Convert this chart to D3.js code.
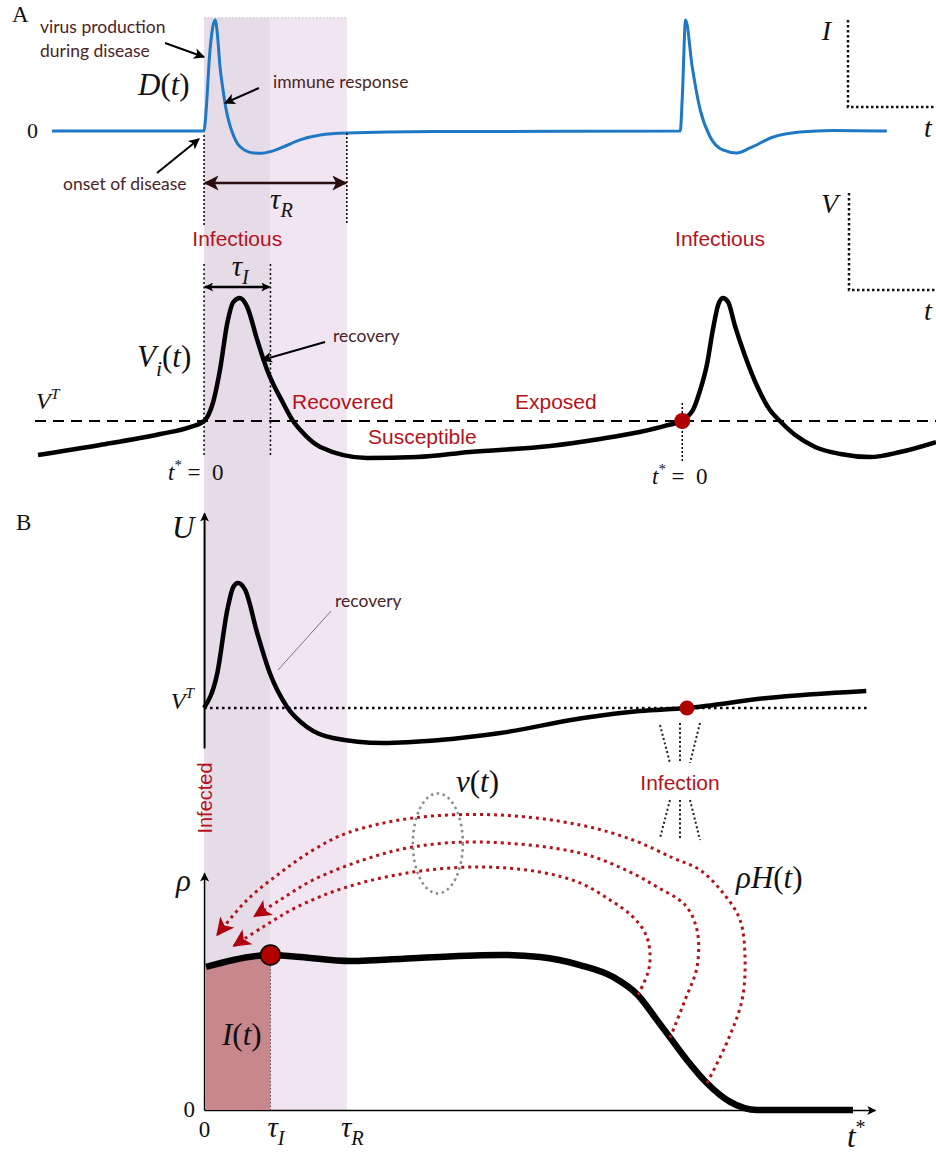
<!DOCTYPE html>
<html><head><meta charset="utf-8">
<script src="https://cdn.jsdelivr.net/npm/d3@7/dist/d3.min.js"></script>
<style>html,body{margin:0;padding:0;background:#fff}svg{display:block}text{white-space:pre}</style>
</head><body>
<svg id="chart" width="936" height="1153"></svg>
<script>
// ================= DATA =================
const tauI = 1.0;            // infectious period
const tauR = 2.15;           // recovery period
const tInfectA = 7.2;        // second infection (panel A)
const tInfectB = 7.27;       // infection point (panel B)
const xTickValues = [0, tauI, tauR];
const xTickLabels = [[["0", ""]], [["τ", "i"], ["I", "ib"]], [["τ", "i"], ["R", "ib"]]];

// D(t): virus production during disease  [t, D]
const virusProduction = [
  [-2.29, 0], [0, 0], [0.02, 0.1], [0.09, 0.73], [0.166, 1], [0.2, 0.88], [0.24, 0.58],
  [0.286, 0.37], [0.33, 0.2], [0.39, 0.05], [0.45, -0.05], [0.54, -0.14], [0.74, -0.198],
  [0.87, -0.2], [1.0, -0.185], [1.19, -0.144], [1.445, -0.08], [1.75, -0.036], [2.15, -0.018],
  [3.5, -0.005], [7.17, 0], [7.2, 0.3], [7.25, 1], [7.35, 0.577], [7.47, 0.19], [7.62, -0.054],
  [7.81, -0.171], [8.02, -0.198], [8.22, -0.153], [8.57, -0.054], [8.97, -0.009], [9.47, 0.005],
  [10.28, 0]
];

// V_i(t): within-host viral load, panel A  [t, v]
const viralLoadA = [
  [-2.5, -0.276], [-1.566, -0.195], [-0.66, -0.106], [-0.21, -0.049], [0, 0], [0.045, 0.03],
  [0.14, 0.16], [0.24, 0.415], [0.35, 0.797], [0.44, 0.967], [0.54, 1], [0.65, 0.927],
  [0.8, 0.659], [0.95, 0.415], [1.19, 0.146], [1.34, 0], [1.45, -0.073], [1.75, -0.211],
  [2.45, -0.3], [3.21, -0.293], [4.0, -0.252], [5.21, -0.203], [5.96, -0.146],
  [6.56, -0.089], [6.94, -0.04], [7.17, 0], [7.36, 0.089], [7.47, 0.252], [7.57, 0.455],
  [7.66, 0.74], [7.74, 0.943], [7.81, 1], [7.89, 0.967], [7.99, 0.78], [8.14, 0.537],
  [8.34, 0.268], [8.52, 0.089], [8.67, 0], [8.9, -0.114], [9.2, -0.211], [9.58, -0.268],
  [10.03, -0.293], [10.48, -0.252], [11.02, -0.171]
];

// U(t): viral load, panel B  [t, u]
const viralLoadB = [
  [0, 0], [0.2, 0.28], [0.35, 0.784], [0.44, 0.968], [0.51, 1], [0.62, 0.944], [0.8, 0.6],
  [0.99, 0.28], [1.25, 0.008], [1.55, -0.152], [1.94, -0.24], [2.69, -0.28], [3.55, -0.256],
  [4.46, -0.2], [5.71, -0.08], [6.56, -0.024], [7.27, 0], [8.48, 0.08], [9.97, 0.136]
];

// rho(t*): prevalence-like curve  [t*, rho]
const prevalence = [
  [0.03, 0.923], [0.44, 0.968], [1.0, 1.0], [1.45, 0.987], [2.2, 0.961], [3.21, 0.981],
  [4.46, 1.0], [5.06, 0.987], [5.66, 0.935], [6.16, 0.858], [6.53, 0.742], [6.82, 0.58],
  [7.02, 0.465], [7.27, 0.323], [7.57, 0.174], [7.92, 0.052], [8.33, 0.0], [9.77, 0.0]
];

// rho*H(t) return paths  [t*, rho]
const returnInner = [
  [6.534, 0.742], [6.685, 0.89], [6.715, 1.0], [6.655, 1.129], [6.459, 1.245], [6.113, 1.355],
  [5.661, 1.465], [5.059, 1.535], [4.155, 1.568], [3.147, 1.535], [2.153, 1.439], [1.4, 1.31],
  [0.888, 1.181], [0.45, 1.06]
];
const returnMiddle = [
  [7.016, 0.465], [7.242, 0.71], [7.422, 0.923], [7.422, 1.161], [7.242, 1.323], [6.82, 1.439],
  [6.414, 1.535], [5.661, 1.658], [4.155, 1.729], [3.147, 1.697], [2.394, 1.613], [1.641, 1.484],
  [1.144, 1.355], [0.76, 1.25]
];
const returnOuter = [
  [7.573, 0.174], [7.889, 0.452], [8.1, 0.71], [8.145, 0.968], [8.07, 1.226], [7.814, 1.4],
  [7.468, 1.548], [7.061, 1.626], [6.459, 1.742], [5.661, 1.839], [4.456, 1.903], [3.147, 1.884],
  [2.153, 1.787], [1.641, 1.677], [1.144, 1.529], [0.647, 1.355], [0.2, 1.13]
];

// ================= SCALES =================
const x  = d3.scaleLinear().domain([-2.5, 11.02]).range([38, 936]);
const yD = d3.scaleLinear().domain([0, 1]).range([131, 20]);
const yV = d3.scaleLinear().domain([0, 1]).range([421, 298]);
const yU = d3.scaleLinear().domain([0, 1]).range([708, 583]);
const yR = d3.scaleLinear().domain([0, 1]).range([1110, 955]);

const RED = "#b5121b", NOTE = "#4a2428", MATH = '"Liberation Serif", "Times New Roman", serif';
const SANS = '"Liberation Sans", Arial, sans-serif', NOTEF = 'Lato, "Open Sans", sans-serif';

const svg = d3.select("#chart");
const defs = svg.append("defs");
function marker(id, color, len, wid) {
  defs.append("marker").attr("id", id).attr("viewBox", "0 0 10 10")
    .attr("refX", 9).attr("refY", 5).attr("markerUnits", "userSpaceOnUse")
    .attr("markerWidth", len).attr("markerHeight", wid).attr("orient", "auto-start-reverse")
    .append("path").attr("d", "M0,0 L10,5 L0,10 L2.5,5 Z").attr("fill", color);
}
marker("arrK", "#000", 14, 11);
marker("arrBig", "#2a0f12", 20, 15);
marker("arrSm", "#000", 12, 9);
marker("arrRed", "#b00010", 22, 18);
marker("axArr", "#000", 12, 9);

function setMath(sel, spec, size) {
  sel.text(null);
  let shift = 0;
  spec.forEach(([s, f]) => {
    const ts = sel.append("tspan").text(s);
    if (f.includes("i")) ts.attr("font-style", "italic");
    let target = 0, fs = size;
    if (f.includes("b")) { target = size * 0.28; fs = size * 0.7; }
    if (f.includes("p")) { target = -size * 0.42; fs = size * 0.65; }
    ts.attr("font-size", fs).attr("dy", target - shift);
    shift = target;
  });
}
function math(px, py, size, spec, anchor) {
  const t = svg.append("text").attr("x", px).attr("y", py).attr("font-family", MATH)
    .attr("font-size", size).attr("fill", "#111").attr("text-anchor", anchor || "start");
  setMath(t, spec, size);
  return t;
}
function label(px, py, txt, opts) {
  opts = opts || {};
  return svg.append("text").attr("x", px).attr("y", py).text(txt)
    .attr("font-family", opts.font || SANS).attr("font-size", opts.size || 21)
    .attr("fill", opts.color || RED).attr("text-anchor", opts.anchor || "start");
}
function seg(x1, y1, x2, y2, st) {
  const l = svg.append("line").attr("x1", x1).attr("y1", y1).attr("x2", x2).attr("y2", y2)
    .attr("stroke", st.color || "#000").attr("stroke-width", st.w || 1.5);
  if (st.dash) l.attr("stroke-dasharray", st.dash);
  if (st.end) l.attr("marker-end", `url(#${st.end})`);
  if (st.start) l.attr("marker-start", `url(#${st.start})`);
  return l;
}

// ================= SHADED BAND =================
const bandTop = yD(1.02), bandBot = yR(0);
svg.append("rect").attr("x", x(0)).attr("y", bandTop).attr("width", x(tauI) - x(0))
  .attr("height", bandBot - bandTop).attr("fill", "#e5dce8");
svg.append("rect").attr("x", x(tauI)).attr("y", bandTop).attr("width", x(tauR) - x(tauI))
  .attr("height", bandBot - bandTop).attr("fill", "#f1e5f1");
seg(x(0), bandTop, x(tauR), bandTop, { color: "#c9bcc9", w: 1, dash: "1.5,2" });

// ================= PANEL A: D(t) =================
label(12, 22, "A", { font: MATH, size: 23, color: "#111" });
const lineD = d3.line().x(d => x(d[0])).y(d => yD(d[1])).curve(d3.curveMonotoneX);
svg.append("path").datum(virusProduction).attr("d", lineD).attr("fill", "none")
  .attr("stroke", "#1f78c4").attr("stroke-width", 3);
math(38, 138, 22, [["0", ""]], "end");
math(138, 95, 31, [["D", "i"], ["(", ""], ["t", "i"], [")", ""]]);
label(40, 33, "virus production", { font: NOTEF, size: 17.5, color: NOTE });
label(40, 57, "during disease", { font: NOTEF, size: 17.5, color: NOTE });
seg(165, 43, 204, 57, { w: 2, end: "arrK" });
label(273, 88, "immune response", { font: NOTEF, size: 17.5, color: NOTE });
seg(259, 88, 225, 103, { w: 2, end: "arrK" });
label(63, 190, "onset of disease", { font: NOTEF, size: 17.5, color: NOTE });
seg(157, 173, 199, 139, { w: 2, end: "arrK" });
seg(x(0), 135, x(0), 226, { w: 1.5, dash: "2,2" });
seg(x(tauR), 133, x(tauR), 223, { w: 1.5, dash: "2,2" });
seg(x(0) + 1, 183, x(tauR) - 1, 183, { w: 2.5, color: "#2a0f12", start: "arrBig", end: "arrBig" });
math((x(0) + x(tauR)) / 2 + 6, 209, 29, [["τ", "i"], ["R", "ib"]], "middle");

// inset legends
math(831, 40, 28, [["I", "i"]], "end");
svg.append("path").attr("d", `M848,20 V107 H936`).attr("fill", "none").attr("stroke", "#111")
  .attr("stroke-width", 2.5).attr("stroke-dasharray", "2.5,2.5");
math(924, 137, 28, [["t", "i"]]);
math(838, 213, 28, [["V", "i"]], "end");
svg.append("path").attr("d", `M849,193 V290 H936`).attr("fill", "none").attr("stroke", "#111")
  .attr("stroke-width", 2.5).attr("stroke-dasharray", "2.5,2.5");
math(924, 320, 28, [["t", "i"]]);

// ================= PANEL A: V_i(t) =================
label(x(tauI / 2), 246, "Infectious", { anchor: "middle" });
label(720, 246, "Infectious", { anchor: "middle" });
seg(x(0), 264, x(0), 457, { w: 1.5, dash: "2,2.5" });
seg(x(tauI), 264, x(tauI), 457, { w: 1.5, dash: "2,2.5" });
seg(x(0) + 1, 287, x(tauI) - 1, 287, { w: 2.5, start: "arrSm", end: "arrSm" });
math(x(tauI / 2) + 3, 276, 29, [["τ", "i"], ["I", "ib"]], "middle");
seg(35, yV(0), 936, yV(0), { w: 2, dash: "11,7" });
const lineV = d3.line().x(d => x(d[0])).y(d => yV(d[1])).curve(d3.curveMonotoneX);
svg.append("path").datum(viralLoadA).attr("d", lineV).attr("fill", "none")
  .attr("stroke", "#000").attr("stroke-width", 4.5).attr("stroke-linejoin", "round");
math(36, 409, 24, [["V", "i"], ["T", "ip"]]);
math(137, 367, 31, [["V", "i"], ["i", "ib"], ["(", ""], ["t", "i"], [")", ""]]);
label(333, 342, "recovery", { font: NOTEF, size: 17.5, color: NOTE });
seg(325, 342, 262, 360, { w: 2, end: "arrK" });
label(292, 409, "Recovered");
label(515, 409, "Exposed");
label(368, 444, "Susceptible");
math(168, 480, 23, [["t", "i"], ["*", "p"], [" =  0", ""]]);
seg(x(tInfectA), 403, x(tInfectA), 462, { w: 1.5, dash: "2,2" });
svg.append("circle").attr("cx", x(tInfectA)).attr("cy", yV(0)).attr("r", 8).attr("fill", "#b00000");
math(652, 484, 23, [["t", "i"], ["*", "p"], [" =  0", ""]]);

// ================= PANEL B: U =================
label(16, 530, "B", { font: MATH, size: 23, color: "#111" });
const yUaxis = d3.scaleLinear().domain([-0.32, 1.56]).range([yU(-0.32), yU(1.56)]);
const gU = svg.append("g").attr("transform", `translate(${x(0)},0)`)
  .call(d3.axisLeft(yUaxis).tickValues([0]).tickSize(0).tickSizeOuter(0).tickPadding(10));
gU.select(".domain").attr("stroke-width", 2).attr("marker-end", "url(#axArr)");
gU.selectAll(".tick text").attr("font-family", MATH).attr("fill", "#111").attr("dy", "0.3em")
  .each(function () { setMath(d3.select(this), [["V", "i"], ["T", "ip"]], 24); });
math(172, 538, 31, [["U", "i"]]);
seg(x(0), yU(0), 868, yU(0), { w: 2.5, dash: "2.5,3.5" });
const lineU = d3.line().x(d => x(d[0])).y(d => yU(d[1])).curve(d3.curveMonotoneX);
svg.append("path").datum(viralLoadB).attr("d", lineU).attr("fill", "none")
  .attr("stroke", "#000").attr("stroke-width", 4.5).attr("stroke-linejoin", "round");
svg.append("circle").attr("cx", x(tInfectB)).attr("cy", yU(0)).attr("r", 7.5).attr("fill", "#b00000");
label(335, 607, "recovery", { font: NOTEF, size: 17.5, color: NOTE });
seg(331, 611, 278, 670, { w: 1, color: "#777" });

// Infection label and rays
const ix = 680, iy = 782;
label(ix, iy + 8, "Infection", { anchor: "middle" });
[[-20, -57, -10, -19], [0, -59, 0, -19], [20, -59, 10, -19],
 [-10, 18, -20, 56], [0, 18, 0, 58], [10, 18, 20, 58]].forEach(r =>
  seg(ix + r[0], iy + r[1], ix + r[2], iy + r[3], { w: 2, color: "#222", dash: "2,2.5" }));

svg.append("text").attr("transform", "translate(212,798) rotate(-90)").attr("text-anchor", "middle")
  .attr("font-family", SANS).attr("font-size", 20).attr("fill", RED).text("Infected");

// ================= PANEL B: rho =================
const xAxisScale = d3.scaleLinear().domain([0, 10.1]).range([x(0), x(10.1)]);
const gx = svg.append("g").attr("transform", `translate(0,${yR(0)})`)
  .call(d3.axisBottom(xAxisScale).tickValues(xTickValues).tickSize(0).tickSizeOuter(0));
gx.select(".domain").attr("stroke-width", 1.5).attr("marker-end", "url(#axArr)");
gx.selectAll(".tick text").attr("font-family", MATH).attr("fill", "#111").attr("y", 27).attr("dy", null)
  .each(function (d, i) { setMath(d3.select(this), xTickLabels[i], i === 0 ? 23 : 29); });
gx.selectAll(".tick").filter((d, i) => i > 0).select("text").attr("x", 5);
const yRaxis = d3.scaleLinear().domain([0, 1.53]).range([yR(0), yR(1.53)]);
const gy = svg.append("g").attr("transform", `translate(${x(0)},0)`)
  .call(d3.axisLeft(yRaxis).tickValues([0]).tickFormat(() => "0").tickSize(0).tickSizeOuter(0).tickPadding(9));
gy.select(".domain").attr("stroke-width", 1.5).attr("marker-end", "url(#axArr)");
gy.selectAll(".tick text").attr("font-family", MATH).attr("fill", "#111").attr("font-size", 23).attr("dy", "0.3em");
math(176, 891, 31, [["ρ", "i"]]);
math(x(10.1) - 28, 1147, 31, [["t", "i"], ["*", "p"]]);

defs.append("clipPath").attr("id", "clipI").append("rect")
  .attr("x", x(0)).attr("y", 0).attr("width", x(tauI) - x(0)).attr("height", 1153);
const areaR = d3.area().x(d => x(d[0])).y0(yR(0)).y1(d => yR(d[1])).curve(d3.curveMonotoneX);
svg.append("path").datum(prevalence).attr("d", areaR).attr("fill", "#c8868d").attr("clip-path", "url(#clipI)");
seg(x(tauI), yR(1), x(tauI), yR(0), { w: 1, color: "#555", dash: "1.5,2" });
const lineR = d3.line().x(d => x(d[0])).y(d => yR(d[1])).curve(d3.curveMonotoneX);
svg.append("path").datum(prevalence).attr("d", lineR).attr("fill", "none")
  .attr("stroke", "#000").attr("stroke-width", 6.5);
math(222, 1045, 31, [["I", "i"], ["(", ""], ["t", "i"], [")", ""]]);

// return arcs
const lineArc = d3.line().x(d => x(d[0])).y(d => yR(d[1])).curve(d3.curveCatmullRom.alpha(0.5));
[returnInner, returnMiddle, returnOuter].forEach(p =>
  svg.append("path").datum(p).attr("d", lineArc).attr("fill", "none").attr("stroke", RED)
    .attr("stroke-width", 3).attr("stroke-dasharray", "3,4").attr("marker-end", "url(#arrRed)"));
svg.append("circle").attr("cx", x(tauI)).attr("cy", yR(1)).attr("r", 10)
  .attr("fill", "#b00000").attr("stroke", "#000").attr("stroke-width", 1.5);

// nu(t) ellipse
svg.append("ellipse").attr("cx", x(3.52)).attr("cy", yR(1.72)).attr("rx", 25).attr("ry", 50)
  .attr("fill", "none").attr("stroke", "#888").attr("stroke-width", 2.5).attr("stroke-dasharray", "2.5,3.5");
math(456, 792, 31, [["ν", "i"], ["(", ""], ["t", "i"], [")", ""]]);
math(736, 888, 31, [["ρH", "i"], ["(", ""], ["t", "i"], [")", ""]]);
</script>
</body></html>
